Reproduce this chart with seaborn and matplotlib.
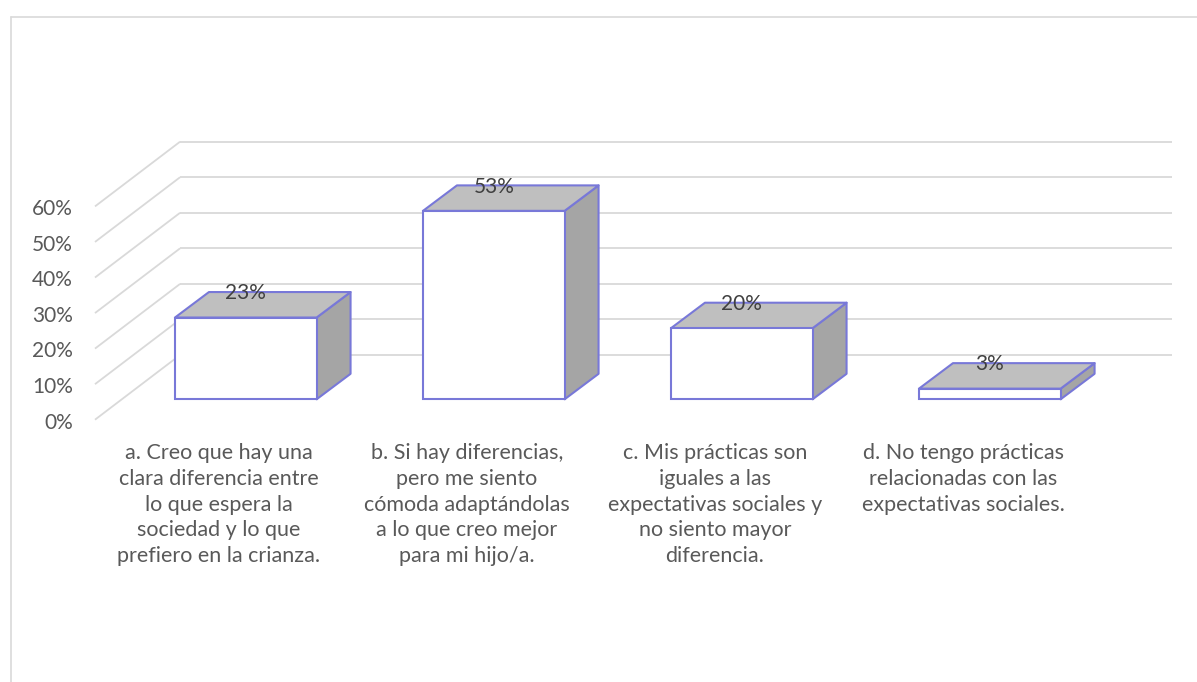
import matplotlib
matplotlib.use("Agg")
import matplotlib.pyplot as plt
from matplotlib.patches import Polygon
from matplotlib.lines import Line2D
import seaborn as sns

# Données du graphique
categorias = [
    "a. Creo que hay una\nclara diferencia entre\nlo que espera la\nsociedad y lo que\nprefiero en la crianza.",
    "b. Si hay diferencias,\npero me siento\ncómoda adaptándolas\na lo que creo mejor\npara mi hijo/a.",
    "c. Mis prácticas son\niguales a las\nexpectativas sociales y\nno siento mayor\ndiferencia.",
    "d. No tengo prácticas\nrelacionadas con las\nexpectativas sociales.",
]
porcentajes = [23, 53, 20, 3]
etiquetas = ["23%", "53%", "20%", "3%"]
ticks_y = [0, 10, 20, 30, 40, 50, 60]

# Style
sns.set_style("white")
plt.rcParams["font.family"] = ["Lato", "DejaVu Sans"]

BORDE = "#7878d8"
GRIS_TOP = "#bfbfbf"
GRIS_LADO = "#a5a5a5"
GRID = "#d9d9d9"

# Décalages de profondeur (unités de données)
BAR_DX, BAR_DY = 0.137, 7.17      # profondeur des barres
BACK_DX, BACK_DY = 0.235, 12.46   # mur du fond
FRONT_DX, FRONT_DY = -0.108, -5.74  # plan avant (axe)

fig = plt.figure(figsize=(11.97, 6.82), dpi=100)
ax = fig.add_axes([0, 0, 1, 1])

df_x = list(range(len(porcentajes)))
sns.barplot(x=df_x, y=porcentajes, color="white", saturation=1,
            edgecolor=BORDE, linewidth=1.5, width=0.571, ax=ax, zorder=3)

ax.set_xlim(-0.991, 3.8355)
ax.set_ylim(-79.52, 112.32)
ax.axis("off")

# Grille en perspective
x_left = -0.5
x_right = len(porcentajes) - 0.5
for v in ticks_y:
    ax.plot([x_left + BACK_DX, x_right + BACK_DX], [v + BACK_DY, v + BACK_DY],
            color=GRID, lw=1.3, zorder=1, solid_capstyle="butt")
    ax.plot([x_left + FRONT_DX, x_left + BACK_DX], [v + FRONT_DY, v + BACK_DY],
            color=GRID, lw=1.3, zorder=1, solid_capstyle="butt")
    ax.text(x_left + FRONT_DX - 0.089, v + FRONT_DY - 0.8, f"{v}%", ha="right", va="center",
            fontsize=15, color="#595959")

# Faces 3D des barres
for p, lab in zip(ax.patches, etiquetas):
    x0, w, h = p.get_x(), p.get_width(), p.get_height()
    top = Polygon([(x0, h), (x0 + w, h), (x0 + w + BAR_DX, h + BAR_DY), (x0 + BAR_DX, h + BAR_DY)],
                  closed=True, fc=GRIS_TOP, ec=BORDE, lw=1.5, zorder=2.5, joinstyle="round")
    side = Polygon([(x0 + w, 0), (x0 + w + BAR_DX, BAR_DY), (x0 + w + BAR_DX, h + BAR_DY), (x0 + w, h)],
                   closed=True, fc=GRIS_LADO, ec=BORDE, lw=1.5, zorder=2.5, joinstyle="round")
    ax.add_patch(side)
    ax.add_patch(top)
    ax.text(x0 + w / 2, h + 6.8, lab, ha="center", va="center", fontsize=15,
            color="#404040", zorder=4)

# Étiquettes des catégories
for i, cat in enumerate(categorias):
    ax.text(i + FRONT_DX, -12.3, cat, ha="center", va="top", fontsize=15.5,
            color="#595959", linespacing=1.36, multialignment="center")

# Bordure de la zone du graphique
fig.add_artist(Line2D([10.5 / 1197, 10.5 / 1197], [0, 1 - 16.5 / 682],
                      transform=fig.transFigure, color=GRID, lw=1.2))
fig.add_artist(Line2D([10.5 / 1197, 1], [1 - 16.5 / 682, 1 - 16.5 / 682],
                      transform=fig.transFigure, color=GRID, lw=1.2))

fig.savefig("out.png", dpi=100, facecolor="white")
